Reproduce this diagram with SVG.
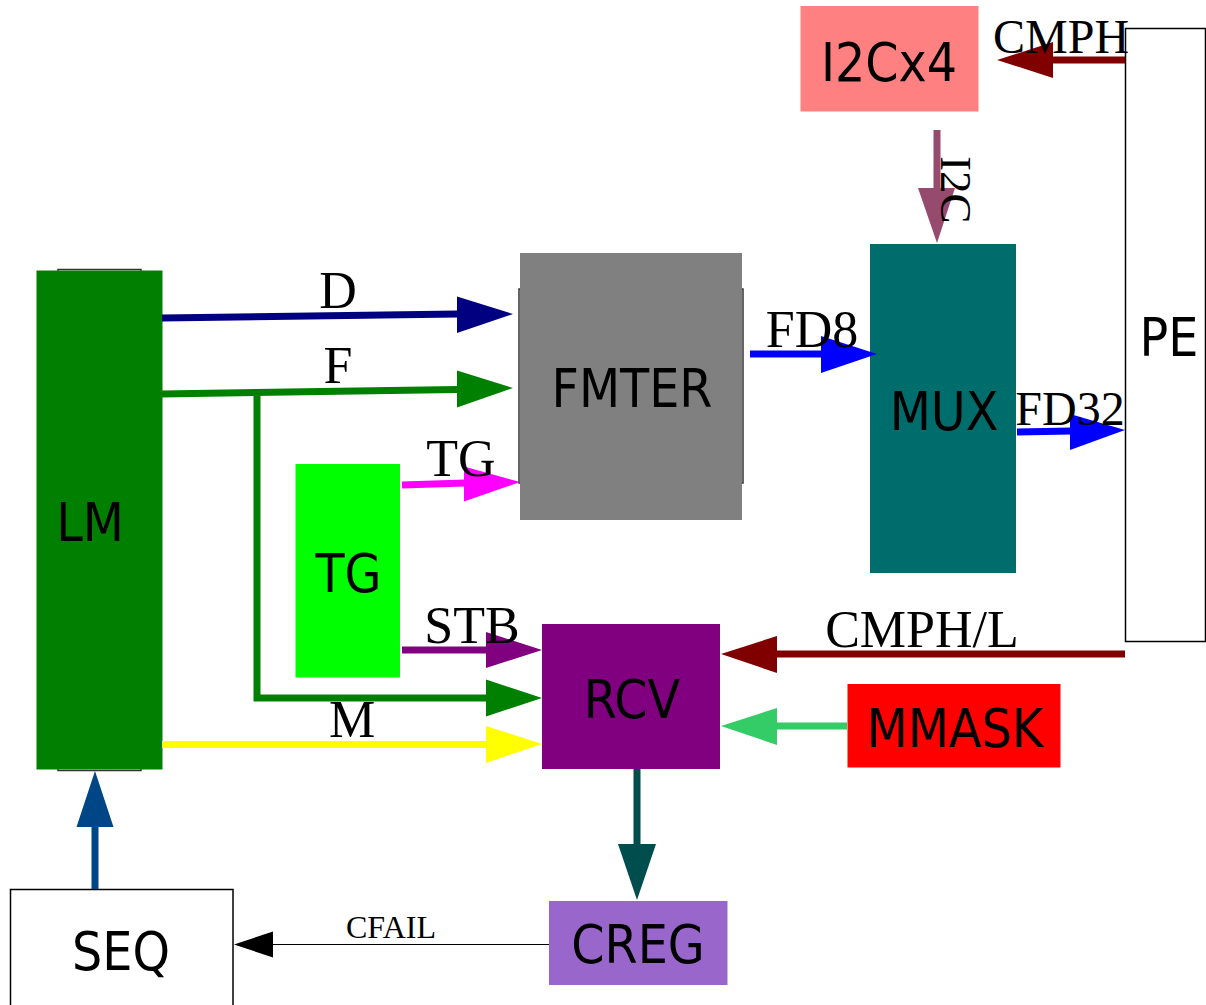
<svg xmlns="http://www.w3.org/2000/svg" width="1206" height="1005" viewBox="0 0 1206 1005">
<style>
.sans{font-family:"DejaVu Sans Condensed","DejaVu Sans",sans-serif;font-stretch:condensed;font-size:53px;fill:#000;text-anchor:middle}
.serif{font-family:"Liberation Serif","Times New Roman",serif;font-size:52px;fill:#000}
.mid{text-anchor:middle}
.ln{fill:none;stroke-width:7}
.outline{fill:none;stroke:#333;stroke-width:1.5}
</style>
<rect width="1206" height="1005" fill="#fff"/>
<g id="LM">
<rect class="outline" x="58" y="269.5" width="83" height="501"/>
<rect x="36.5" y="270.5" width="126" height="499" fill="#007f00"/>
<text class="sans" x="90" y="541">LM</text>
</g>
<g id="FMTER">
<rect class="outline" x="519" y="289" width="224" height="194"/>
<rect x="520" y="253" width="222" height="267" fill="#808080"/>
<text class="sans" x="632" y="407">FMTER</text>
</g>
<g id="I2Cx4">
<rect x="800.5" y="6" width="178" height="105.5" fill="#ff8080"/>
<text class="sans" x="889" y="81">I2Cx4</text>
</g>
<g id="MUX">
<rect x="870" y="244" width="146" height="329" fill="#006d6d"/>
<text class="sans" x="944" y="430">MUX</text>
</g>
<g id="PE">
<rect x="1125.5" y="28.5" width="80" height="613" fill="#fff" stroke="#000" stroke-width="1.5"/>
<text class="sans" x="1169" y="356">PE</text>
</g>
<g id="TG">
<rect x="295.5" y="464" width="104.5" height="213.5" fill="#00ff00"/>
<text class="sans" x="348.5" y="592">TG</text>
</g>
<g id="RCV">
<rect x="542" y="624" width="178" height="145" fill="#800080"/>
<text class="sans" x="632" y="718">RCV</text>
</g>
<g id="MMASK">
<rect x="847.5" y="684" width="213" height="83.5" fill="#ff0000"/>
<text class="sans" x="955" y="747">MMASK</text>
</g>
<g id="CREG">
<rect x="549" y="901" width="178.5" height="84" fill="#9966cc"/>
<text class="sans" x="638" y="963">CREG</text>
</g>
<g id="SEQ">
<rect x="10.5" y="889.5" width="222.5" height="130" fill="#fff" stroke="#000" stroke-width="1.5"/>
<text class="sans" x="121" y="970">SEQ</text>
</g>
<g id="connectors">
<!-- D -->
<line class="ln" x1="162" y1="318" x2="458" y2="314" stroke="#000080"/>
<polygon points="513,314 457,296.5 457,333" fill="#000080"/>
<!-- F -->
<line class="ln" x1="162" y1="394" x2="458" y2="389.5" stroke="#008000"/>
<polygon points="513,388 457,370.5 457,407.5" fill="#008000"/>
<polyline class="ln" points="257,392 257,698 488,698" stroke="#008000" stroke-width="6"/>
<polygon points="542,698 486,679.5 486,716.5" fill="#008000"/>
<!-- TG -->
<line class="ln" x1="402" y1="485" x2="465" y2="483" stroke="#ff00ff"/>
<polygon points="520,482 464,466.5 464,501.5" fill="#ff00ff"/>
<!-- STB -->
<line class="ln" x1="402" y1="650" x2="487" y2="650" stroke="#800080"/>
<polygon points="542,650 486,632 486,668" fill="#800080"/>
<!-- M -->
<line class="ln" x1="162" y1="744.5" x2="487" y2="744.5" stroke="#ffff00"/>
<polygon points="542,744 486,726 486,763" fill="#ffff00"/>
<!-- SEQ to LM -->
<line class="ln" x1="95" y1="889" x2="95" y2="826" stroke="#004586"/>
<polygon points="95,771 76.5,827 113.5,827" fill="#004586"/>
<!-- CFAIL -->
<line x1="549" y1="944.5" x2="272" y2="944.5" stroke="#000" stroke-width="1"/>
<polygon points="234,944.5 273,931.5 273,957.5" fill="#000"/>
<!-- CMPH/L -->
<line class="ln" x1="1125" y1="654" x2="776" y2="654" stroke="#800000"/>
<polygon points="721,654 777,636 777,673" fill="#800000"/>
<!-- MMASK to RCV -->
<line class="ln" x1="847" y1="726" x2="776" y2="726" stroke="#33cc66"/>
<polygon points="721,726 777,708 777,745" fill="#33cc66"/>
<!-- RCV to CREG -->
<line class="ln" x1="637" y1="769" x2="637" y2="845" stroke="#004d4d"/>
<polygon points="637,900 618,844 656,844" fill="#004d4d"/>
<!-- CMPH -->
<line class="ln" x1="1125" y1="60" x2="1052" y2="60" stroke="#800000"/>
<polygon points="997,60 1053,42 1053,78" fill="#800000"/>
<!-- I2C -->
<line class="ln" x1="937" y1="130" x2="937" y2="189" stroke="#964a6e"/>
<polygon points="937,243 918,188 955,188" fill="#964a6e"/>
<!-- FD8 -->
<line class="ln" x1="750" y1="354" x2="822" y2="354" stroke="#0000ff"/>
<polygon points="877,354 821,336 821,373" fill="#0000ff"/>
<!-- FD32 -->
<line class="ln" x1="1017" y1="432" x2="1071" y2="431" stroke="#0000ff"/>
<polygon points="1125,430 1070,414 1070,450" fill="#0000ff"/>
</g>
<g id="labels">
<text class="serif mid" x="338" y="308">D</text>
<text class="serif mid" x="338" y="383">F</text>
<text class="serif mid" x="461" y="476">TG</text>
<text class="serif mid" x="472" y="643">STB</text>
<text class="serif mid" x="352" y="737">M</text>
<text class="serif mid" x="812" y="347">FD8</text>
<text class="serif mid" x="1070" y="425" style="font-size:48px">FD32</text>
<text class="serif mid" x="922" y="647">CMPH/L</text>
<text class="serif" x="993" y="53" style="font-size:48px">CMPH</text>
<text class="serif" transform="translate(941,156) rotate(90)" style="font-size:45px">I2C</text>
<text class="serif mid" x="391" y="938" style="font-size:32px">CFAIL</text>
</g>
</svg>
